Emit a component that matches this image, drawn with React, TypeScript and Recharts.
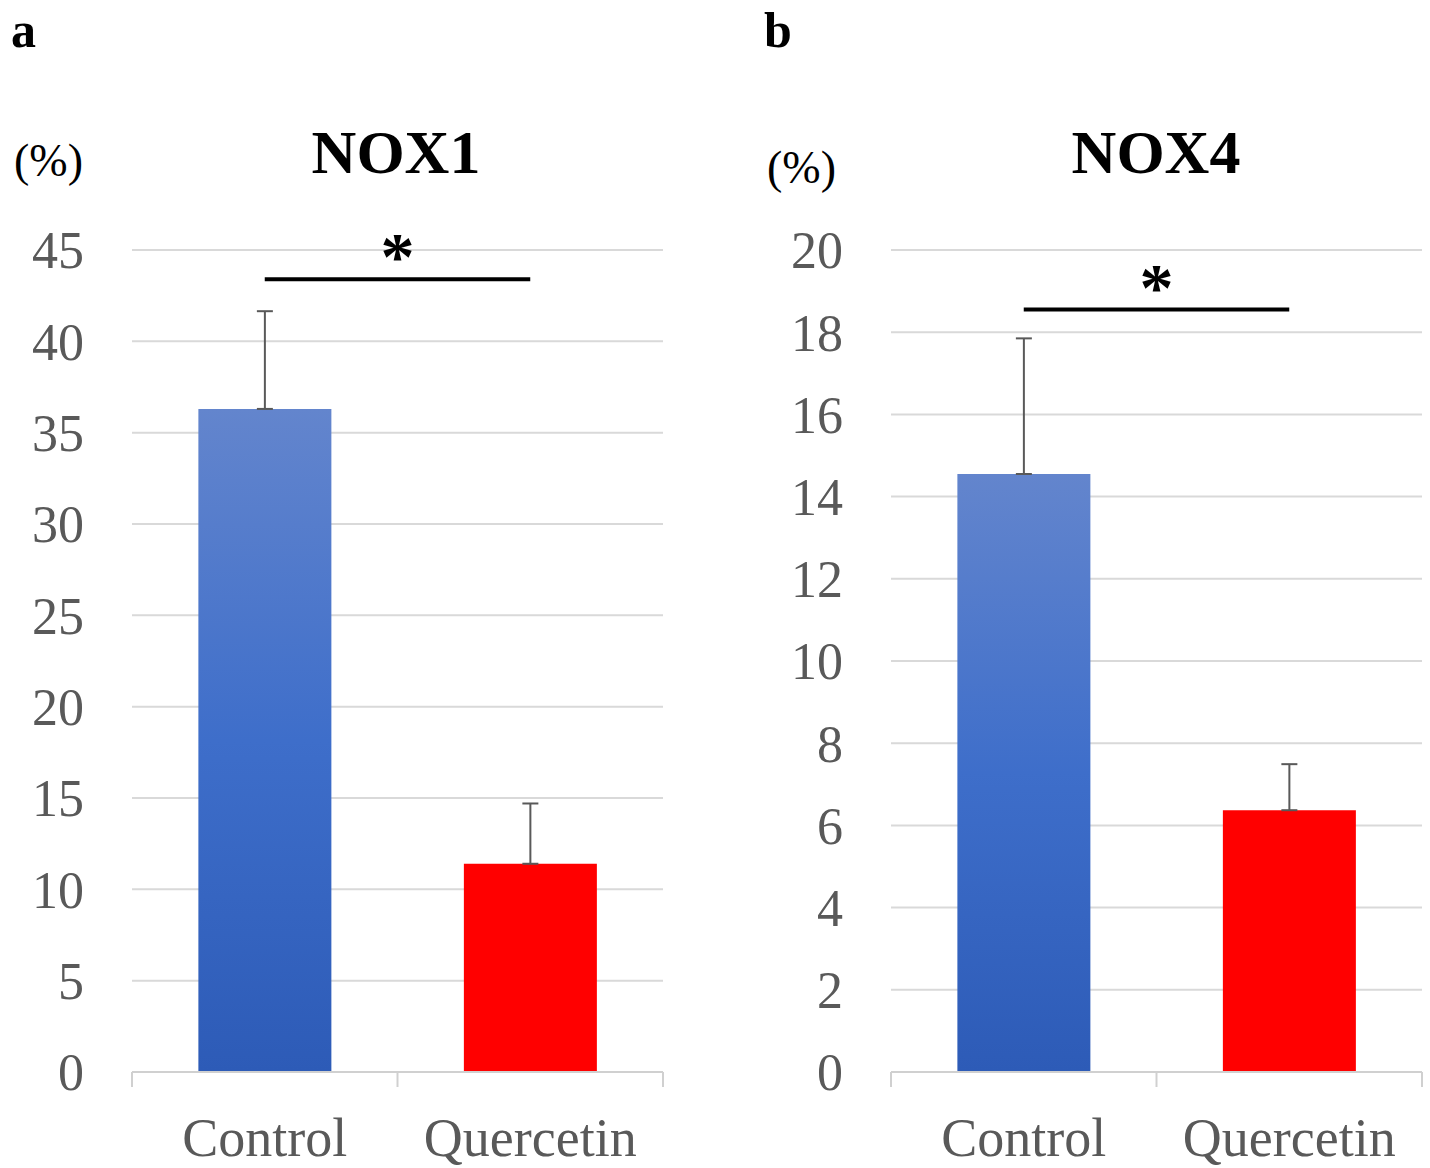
import { Bar, BarChart, CartesianGrid, Cell, ErrorBar, ReferenceLine, XAxis, YAxis } from 'recharts'

// groups and measured expression levels (%)
const groups = ['Control', 'Quercetin']

const nox1Mean = [36.3, 11.4]
const nox1Sd = [5.35, 3.3]
const nox1Ticks = [0, 5, 10, 15, 20, 25, 30, 35, 40, 45]
const nox1SigLevel = 43.4

const nox4Mean = [14.55, 6.37]
const nox4Sd = [3.3, 1.12]
const nox4Ticks = [0, 2, 4, 6, 8, 10, 12, 14, 16, 18, 20]
const nox4SigLevel = 18.55

const SERIF = '"Liberation Serif", "Times New Roman", serif'
const GREY = '#595959'

const toRows = (mean: number[], sd: number[]) =>
  groups.map((g, i) => ({ group: g, mean: mean[i], sd: [0, sd[i]] }))

const GroupTick = (props: any) => {
  const { x, y, payload, index, visibleTicksCount } = props
  const half = payload?.offset ?? 0
  const isLast = index === (visibleTicksCount ?? groups.length) - 1
  return (
    <g>
      <line x1={x - half} y1={y} x2={x - half} y2={y + 15} stroke="#d0d0d0" strokeWidth={2} />
      {isLast && <line x1={x + half} y1={y} x2={x + half} y2={y + 15} stroke="#d0d0d0" strokeWidth={2} />}
      <text x={x} y={y + 84} textAnchor="middle" fontFamily={SERIF} fontSize={54} fill={GREY}>
        {payload.value}
      </text>
    </g>
  )
}

interface PanelProps {
  id: string
  mean: number[]
  sd: number[]
  ticks: number[]
  sig: number
  width: number
  left: number
  right: number
}

const Panel = ({ id, mean, sd, ticks, sig, width, left, right }: PanelProps) => (
  <BarChart
    width={width}
    height={1168}
    data={toRows(mean, sd)}
    margin={{ top: 250, right, bottom: 0, left }}
    barCategoryGap="25%"
  >
    <defs>
      <linearGradient id={`ctrl-${id}`} x1="0" y1="0" x2="0" y2="1">
        <stop offset="0%" stopColor="#6385CD" />
        <stop offset="50%" stopColor="#3E6ECA" />
        <stop offset="100%" stopColor="#2D5BB7" />
      </linearGradient>
    </defs>
    <CartesianGrid vertical={false} stroke="#d9d9d9" strokeWidth={2} />
    <XAxis
      dataKey="group"
      height={96}
      axisLine={{ stroke: '#d0d0d0', strokeWidth: 2 }}
      tickLine={false}
      tickSize={0}
      tickMargin={0}
      interval={0}
      tick={<GroupTick />}
    />
    <YAxis
      width={100}
      domain={[0, ticks[ticks.length - 1]]}
      ticks={ticks}
      axisLine={false}
      tickLine={false}
      tickSize={0}
      tickMargin={48}
      tick={{ fontFamily: SERIF, fontSize: 52, fill: GREY }}
    />
    <Bar dataKey="mean" isAnimationActive={false}>
      <Cell fill={`url(#ctrl-${id})`} />
      <Cell fill="#FF0000" />
      <ErrorBar dataKey="sd" direction="y" width={8} stroke={GREY} strokeWidth={2} />
    </Bar>
    <ReferenceLine
      segment={[
        { x: groups[0], y: sig },
        { x: groups[1], y: sig },
      ]}
      stroke="#000"
      strokeWidth={4}
      label={{ value: '*', position: 'top', offset: 0, fontFamily: SERIF, fontSize: 68, fontWeight: 'bold', fill: '#000' }}
    />
  </BarChart>
)

export default function App() {
  return (
    <div style={{ position: 'absolute', left: 0, top: 0, width: 1430, height: 1168, background: '#fff' }}>
      <div style={{ position: 'absolute', left: 0, top: 0 }}>
        <Panel id="a" mean={nox1Mean} sd={nox1Sd} ticks={nox1Ticks} sig={nox1SigLevel} width={700} left={32} right={37} />
      </div>
      <div style={{ position: 'absolute', left: 740, top: 0 }}>
        <Panel id="b" mean={nox4Mean} sd={nox4Sd} ticks={nox4Ticks} sig={nox4SigLevel} width={690} left={51} right={8} />
      </div>
      <svg width={1430} height={1168} style={{ position: 'absolute', left: 0, top: 0, pointerEvents: 'none' }}>
        <g fontFamily={SERIF}>
          <text x={11} y={47} fontSize={50} fontWeight="bold">a</text>
          <text x={764} y={47} fontSize={50} fontWeight="bold">b</text>
          <text x={396} y={173} fontSize={62} fontWeight="bold" textAnchor="middle">NOX1</text>
          <text x={1156} y={173} fontSize={62} fontWeight="bold" textAnchor="middle">NOX4</text>
          <text x={14} y={176} fontSize={46}>(%)</text>
          <text x={767} y={183} fontSize={46}>(%)</text>
        </g>
      </svg>
    </div>
  )
}
